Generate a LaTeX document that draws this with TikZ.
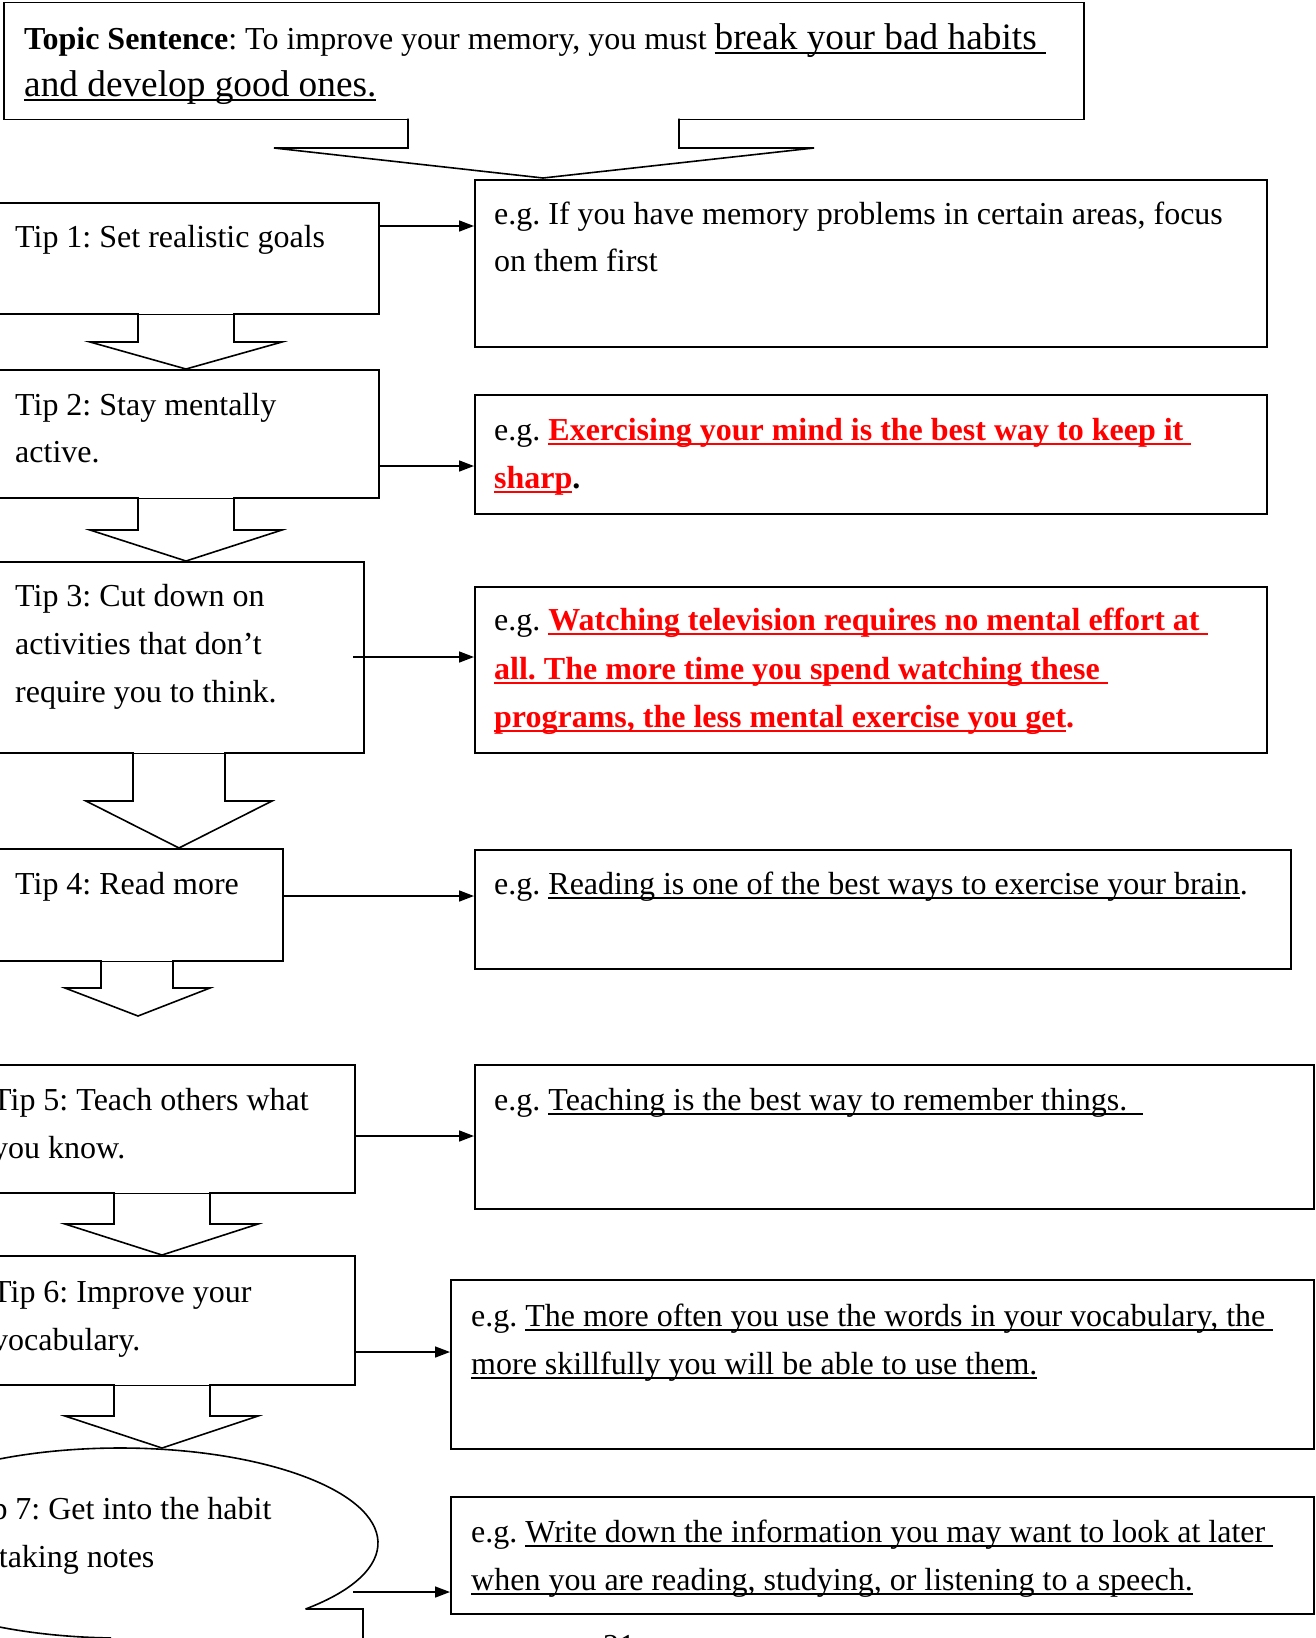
\documentclass[tikz,border=0pt]{standalone}
\usepackage{fontspec}
\setmainfont{Liberation Serif}
\usetikzlibrary{arrows.meta}
\frenchspacing
\newlength\ulw
\newcommand\myul[1]{\settowidth\ulw{#1}\rlap{\rule[-0.145em]{\ulw}{0.06em}}#1}
\newcommand\blkarrow[8]{%
  \fill[white] (#2+1.2,#1-1.8) rectangle (#3-1.2,#1+1);
  \draw[blk] (#2,#1) -- (#2,#4) -- (#5,#4) -- (#7,#8) -- (#6,#4) -- (#3,#4) -- (#3,#1);}
\tikzset{
  box/.style={draw, line width=1.6pt, fill=white, inner sep=0pt, anchor=north west},
  txt/.style={anchor=base west, inner sep=0pt, font=\fontsize{32}{38}\selectfont},
  arr/.style={line width=1.6pt, -{Triangle[length=15pt,width=11pt]}},
  blk/.style={line width=1.6pt, line join=miter},
}
\begin{document}
\begin{tikzpicture}[x=1pt,y=-1pt]
\fill[white] (0,0) rectangle (1315,1638);
\useasboundingbox (0,0) rectangle (1315,1638);
\clip (0,0) rectangle (1315,1638);

% boxes
\node[box, minimum width=1080pt, minimum height=117pt] (top) at (3,1.5) {};
\node[box, minimum width=428pt, minimum height=111pt] (tip1) at (-50,202) {};
\node[box, minimum width=428pt, minimum height=128pt] (tip2) at (-50,369) {};
\node[box, minimum width=413pt, minimum height=191pt] (tip3) at (-50,561) {};
\node[box, minimum width=332pt, minimum height=112pt] (tip4) at (-50,848) {};
\node[box, minimum width=404pt, minimum height=128pt] (tip5) at (-50,1064) {};
\node[box, minimum width=404pt, minimum height=129pt] (tip6) at (-50,1255) {};
\node[box, minimum width=792pt, minimum height=167pt] (eg1) at (474,179) {};
\node[box, minimum width=792pt, minimum height=119pt] (eg2) at (474,394) {};
\node[box, minimum width=792pt, minimum height=166pt] (eg3) at (474,586) {};
\node[box, minimum width=816pt, minimum height=119pt] (eg4) at (474,849) {};
\node[box, minimum width=839pt, minimum height=144pt] (eg5) at (474,1064) {};
\node[box, minimum width=863pt, minimum height=169pt] (eg6) at (450,1279) {};
\node[box, minimum width=863pt, minimum height=117pt] (eg7) at (450,1496) {};

% block arrows
\blkarrow{118.5}{408}{679}{148}{274}{814}{543}{178}
\blkarrow{313}{138}{234}{342}{90}{282}{186}{369}
\blkarrow{497}{138}{234}{530}{90}{282}{186}{561}
\blkarrow{752}{133}{225}{801}{86}{272}{179}{848}
\blkarrow{960}{101}{173}{988}{65}{210}{138}{1016}
\blkarrow{1192}{114}{210}{1224}{65}{258}{162}{1255}
\blkarrow{1384}{114}{210}{1416}{65}{258}{162}{1448}

% tip 7 ellipse (partly hidden) and the box below it
\coordinate (c7) at (120,1543);
\coordinate (n7) at ([shift={(-44:258pt and 95pt)}]c7);
\draw[blk] (n7) arc[start angle=-44, end angle=268, x radius=258pt, y radius=95pt];
\draw[blk] (n7) -- (363,1609) -- (363,1660);

% connectors
\coordinate (y1) at (0,226);
\coordinate (y2) at (0,466);
\coordinate (s3) at (353,657);
\coordinate (y4) at (0,896);
\coordinate (y5) at (0,1136);
\coordinate (y6) at (0,1352);
\coordinate (s7) at (353,1592);
\draw[arr] (tip1.east |- y1) -- (eg1.west |- y1);
\draw[arr] (tip2.east |- y2) -- (eg2.west |- y2);
\draw[arr] (s3) -- (eg3.west |- s3);
\draw[arr] (tip4.east |- y4) -- (eg4.west |- y4);
\draw[arr] (tip5.east |- y5) -- (eg5.west |- y5);
\draw[arr] (tip6.east |- y6) -- (eg6.west |- y6);
\draw[arr] (s7) -- (eg7.west |- s7);

% topic sentence
\node[txt] (ts1) at (24,49) {\textbf{Topic Sentence}: To improve your memory, you must {\fontsize{37.3}{44}\selectfont\myul{break your bad habits }}};
\node[txt] (ts2) at (24,96) {\fontsize{37.3}{44}\selectfont\myul{and develop good ones.}};

% tips
\node[txt] (t1) at (15,247) {Tip 1: Set realistic goals};
\node[txt] (t2a) at (15,415) {Tip 2: Stay mentally};
\node[txt] (t2b) at (15,462) {active.};
\node[txt] (t3a) at (15,606) {Tip 3: Cut down on};
\node[txt] (t3b) at (15,654) {activities that don’t};
\node[txt] (t3c) at (15,702) {require you to think.};
\node[txt] (t4) at (15,894) {Tip 4: Read more};
\node[txt] (t5a) at (-8,1110) {Tip 5: Teach others what};
\node[txt] (t5b) at (-8,1158) {you know.};
\node[txt] (t6a) at (-8,1302) {Tip 6: Improve your};
\node[txt] (t6b) at (-8,1350) {vocabulary.};
\node[txt] (t7a) at (-36,1519) {Tip 7: Get into the habit};
\node[txt] (t7b) at (-36,1567) {of taking notes};

% examples
\node[txt] (e1a) at (494,224) {e.g. If you have memory problems in certain areas, focus};
\node[txt] (e1b) at (494,271) {on them first};
\node[txt] (e2a) at (494,440) {e.g. {\bfseries\color{red}\myul{Exercising your mind is the best way to keep it }}};
\node[txt] (e2b) at (494,488) {{\bfseries\color{red}\myul{sharp}}\textbf{.}};
\node[txt] (e3a) at (494,630) {e.g. {\bfseries\color{red}\myul{Watching television requires no mental effort at }}};
\node[txt] (e3b) at (494,679) {{\bfseries\color{red}\myul{all. The more time you spend watching these }}};
\node[txt] (e3c) at (494,727) {{\bfseries\color{red}\myul{programs, the less mental exercise you get}.}};
\node[txt] (e4) at (494,894) {e.g. \myul{Reading is one of the best ways to exercise your brain}.};
\node[txt] (e5) at (494,1110) {e.g. \myul{Teaching is the best way to remember things.\ \ }};
\node[txt] (e6a) at (471,1326) {e.g. \myul{The more often you use the words in your vocabulary, the }};
\node[txt] (e6b) at (471,1374) {\myul{more skillfully you will be able to use them.}};
\node[txt] (e7a) at (471,1542) {e.g. \myul{Write down the information you may want to look at later }};
\node[txt] (e7b) at (471,1590) {\myul{when you are reading, studying, or listening to a speech.}};

% page number
\node[txt, anchor=base] (pg) at (619,1656) {21};
\end{tikzpicture}
\end{document}
